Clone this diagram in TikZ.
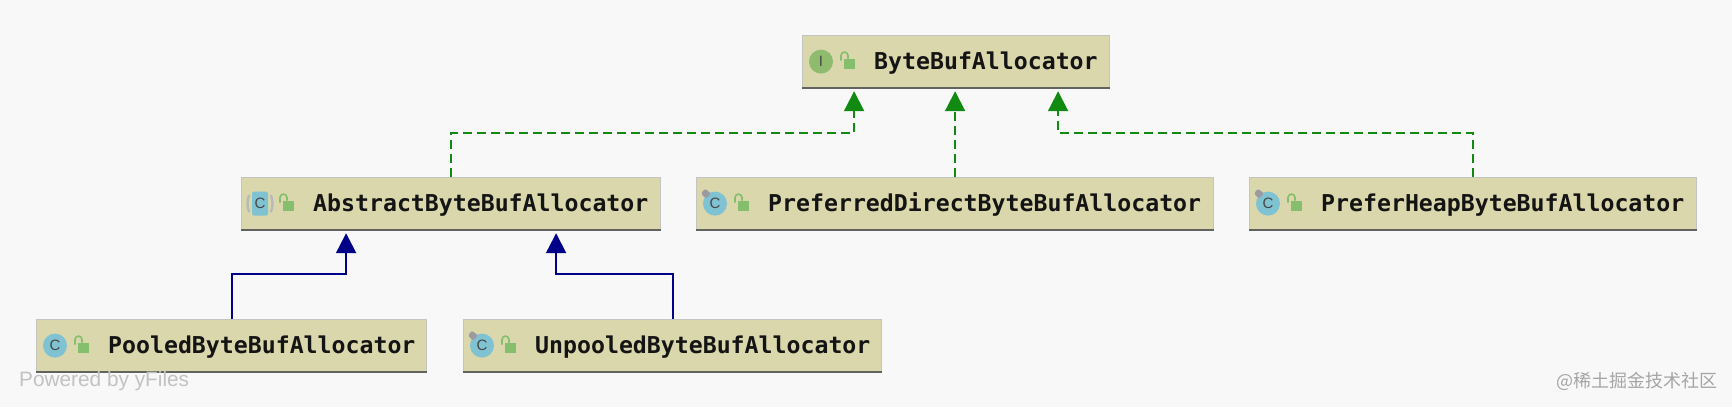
\documentclass[tikz,border=0pt]{standalone}
\usepackage{fontspec}
\setmonofont{DejaVu Sans Mono}
\setsansfont{Liberation Sans}
\newfontfamily\cjkfont{Noto Sans CJK SC}
\usetikzlibrary{arrows.meta,calc}
\definecolor{bgc}{HTML}{F8F8F8}
\definecolor{boxfill}{HTML}{D9D7AB}
\definecolor{boxedge}{HTML}{C4C4C0}
\definecolor{boxbase}{HTML}{62625E}
\definecolor{implc}{HTML}{118A11}
\definecolor{extc}{HTML}{000088}
\definecolor{classc}{HTML}{7FC3D3}
\definecolor{abstc}{HTML}{7FC3D3}
\definecolor{ifacec}{HTML}{8FBB6F}
\definecolor{lockc}{HTML}{85BE6C}
\definecolor{wmc}{HTML}{C2C2C2}
\definecolor{pinc}{HTML}{9A9AA0}
\tikzset{
  x=1pt,y=-1pt,
  classbox/.style={draw=boxedge,line width=1.2pt,fill=boxfill,inner sep=0pt,minimum height=52pt},
  classtext/.style={anchor=west,inner sep=0pt,font=\ttfamily\bfseries\fontsize{23.2}{23.2}\selectfont,text=black!92},
  iconball/.style={circle,inner sep=0pt,minimum size=24pt},
  iconletter/.style={inner sep=0pt,font=\sffamily\fontsize{15}{15}\selectfont,text=black!72},
  impl/.style={draw=implc,line width=2pt,dash pattern=on 9pt off 5pt,arrows={-{Triangle[length=20pt,width=20pt]}}},
  extd/.style={draw=extc,line width=2pt,-{Triangle[length=20pt,width=20pt]}},
}
% name, left x, right x, top y, label, letter, colour
\newcommand{\classnode}[7]{%
  \node[classbox,minimum width=#3pt-#2pt,anchor=north west] (#1) at (#2,#4) {};
  \draw[boxbase,line width=1.7pt] (#1.south west) -- (#1.south east);
  \node[classtext] (#1text) at ($(#1.west)+(72,1)$) {#5};
  \node[iconball,fill=#7] (#1icon) at ($(#1.west)+(19,0)$) {};
  \node[iconletter] (#1letter) at (#1icon) {#6};
  \fill[lockc] ($(#1.west)+(42,-3)$) rectangle ($(#1.west)+(53,7)$);
  \draw[lockc,line width=1.6pt] ($(#1.west)+(39,-1)$) -- ($(#1.west)+(39,-6)$) arc[start angle=180,end angle=0,x radius=3.5,y radius=-3.5] -- ($(#1.west)+(46,-3)$);
}
\newcommand{\pinmark}[1]{%
  \fill[pinc,rounded corners=1.5pt] ($(#1.west)+(5,-10)$) -- ($(#1.west)+(9,-15)$) -- ($(#1.west)+(15,-10)$) -- ($(#1.west)+(10,-5)$) -- cycle;
}
\begin{document}
\begin{tikzpicture}
\fill[bgc] (0,0) rectangle (1732,407);
\useasboundingbox (0,0) rectangle (1732,407);
\classnode{bba}{802}{1109}{35}{ByteBufAllocator}{I}{ifacec}
\classnode{abs}{241}{660}{177}{AbstractByteBufAllocator}{C}{boxfill}
\fill[abstc,rounded corners=2pt] ($(absicon)+(-8,-12)$) rectangle ($(absicon)+(8,12)$);
\draw[gray!55,line width=2.4pt,line cap=round] ($(absicon)+(-11,-8)$) .. controls ($(absicon)+(-13,-3)$) and ($(absicon)+(-13,3)$) .. ($(absicon)+(-11,8)$);
\draw[gray!55,line width=2.4pt,line cap=round] ($(absicon)+(11,-8)$) .. controls ($(absicon)+(13,-3)$) and ($(absicon)+(13,3)$) .. ($(absicon)+(11,8)$);
\node[iconletter] (absletter2) at (absicon) {C};
\classnode{pref}{696}{1213}{177}{PreferredDirectByteBufAllocator}{C}{classc}
\pinmark{pref}
\classnode{heap}{1249}{1696}{177}{PreferHeapByteBufAllocator}{C}{classc}
\pinmark{heap}
\classnode{pool}{36}{426}{319}{PooledByteBufAllocator}{C}{classc}
\classnode{unp}{463}{881}{319}{UnpooledByteBufAllocator}{C}{classc}
\pinmark{unp}
\coordinate (t1) at ($(bba.south)+(-102,3)$);
\coordinate (t2) at ($(bba.south)+(0,3)$);
\coordinate (t3) at ($(bba.south)+(102,3)$);
\coordinate (t4) at ($(abs.south)+(-105,3)$);
\coordinate (t5) at ($(abs.south)+(105,3)$);
\draw[impl] (abs.north) -- ++(0,-44) -| (t1);
\draw[impl] (pref.north) -- (pref.north |- t2);
\draw[impl] (heap.north) -- ++(0,-44) -| (t3);
\draw[extd] (pool.north) -- ++(0,-45) -| (t4);
\draw[extd] (unp.north) -- ++(0,-45) -| (t5);
\node[anchor=base west,inner sep=0pt,font=\sffamily\fontsize{20.8}{20.8}\selectfont,text=wmc] (yfiles) at (19,386) {Powered by yFiles};
\node[anchor=base east,inner sep=0pt,font=\cjkfont\fontsize{18}{18}\selectfont,text=wmc!85!black] (juejin) at (1718,387) {@稀土掘金技术社区};
\end{tikzpicture}
\end{document}
